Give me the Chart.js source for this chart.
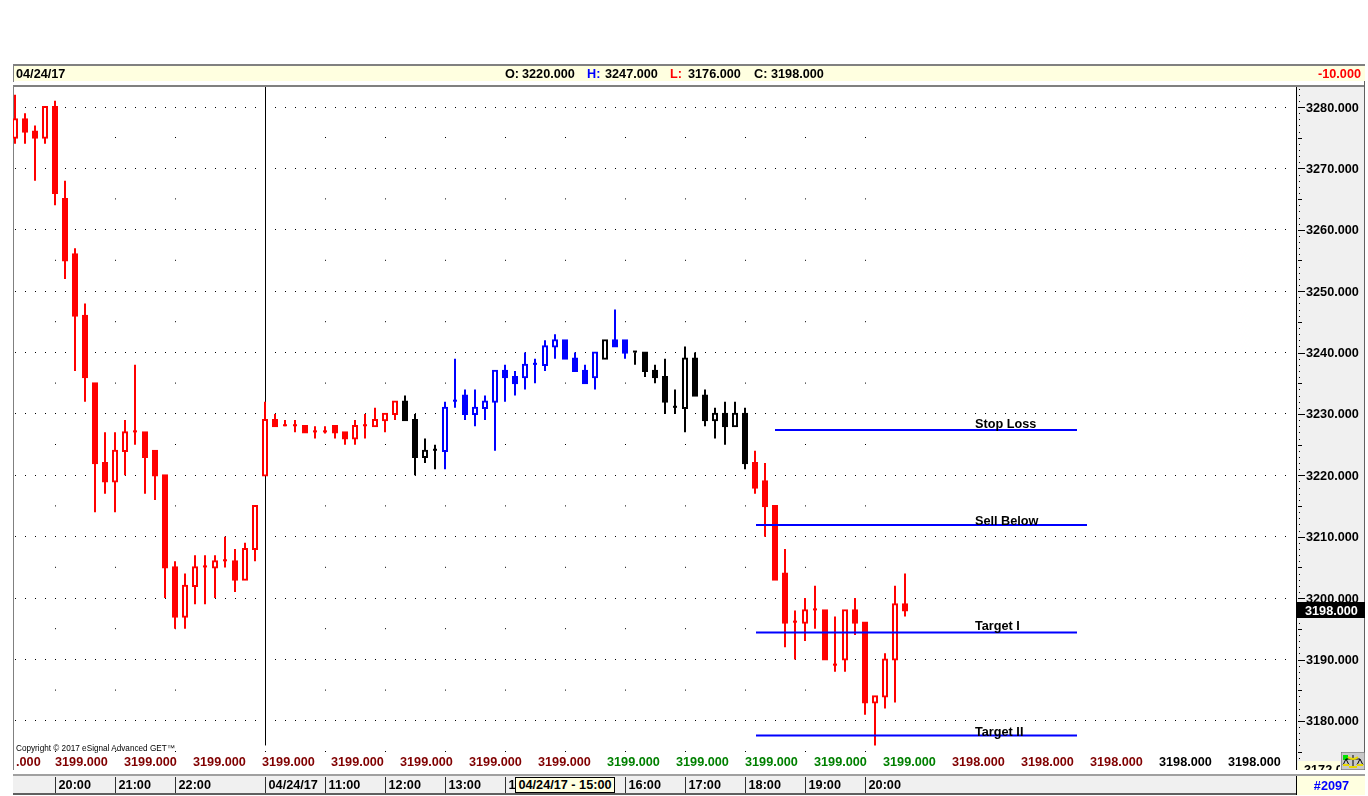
<!DOCTYPE html>
<html>
<head>
<meta charset="utf-8">
<title>eSignal chart</title>
<script src="https://cdn.jsdelivr.net/npm/chart.js@4/dist/chart.umd.min.js"></script>
<style>
html,body{margin:0;padding:0;background:#fff;width:1368px;height:796px;overflow:hidden}
body{position:relative;font:bold 12.7px "Liberation Sans",Arial,sans-serif;color:#000}
canvas{position:absolute;left:0;top:0;z-index:2}
.b{position:absolute;z-index:1}
.t{position:absolute;z-index:3;white-space:pre;line-height:16px;height:16px}
</style>
</head>
<body>
<div class="b" style="left:13px;top:64px;width:1352px;height:2px;background:#808080"></div>
<div class="b" style="left:13px;top:65px;width:1px;height:17px;background:#808080"></div>
<div class="b" style="left:14px;top:66px;width:1351px;height:15px;background:#ffffe0"></div>
<div class="b" style="left:13px;top:85px;width:1352px;height:2px;background:#808080"></div>
<div class="b" style="left:13px;top:87px;width:1px;height:683px;background:#808080"></div>
<div class="b" style="left:1297px;top:87px;width:67px;height:683px;background:#f0f0f0"></div>
<div class="b" style="left:1296px;top:87px;width:1px;height:683px;background:#000"></div>
<div class="b" style="left:1364px;top:81px;width:1px;height:689px;background:#606060"></div>
<div class="b" style="left:13px;top:774px;width:1352px;height:2px;background:#a0a0a0"></div>
<div class="b" style="left:13px;top:776px;width:1283px;height:17px;background:#f0f0f0"></div>
<div class="b" style="left:13px;top:793px;width:1284px;height:2px;background:#606060"></div>
<div class="b" style="left:1296px;top:776px;width:1px;height:19px;background:#000"></div>
<div class="b" style="left:1297px;top:776px;width:68px;height:19px;background:#ffffe0"></div>

<div class="t" style="left:16px;top:66px">04/24/17</div>
<div class="t" style="left:505px;top:66px">O:</div><div class="t" style="left:522px;top:66px">3220.000</div>
<div class="t" style="left:587px;top:66px;color:#0000ff">H:</div><div class="t" style="left:605px;top:66px">3247.000</div>
<div class="t" style="left:670px;top:66px;color:#ff0000">L:</div><div class="t" style="left:688px;top:66px">3176.000</div>
<div class="t" style="left:754px;top:66px">C:</div><div class="t" style="left:771px;top:66px">3198.000</div>
<div class="t" style="right:7px;top:66px;color:#ff0000">-10.000</div>
<div class="t" style="left:16px;top:741px;font:normal 8.2px/16px 'Liberation Sans',Arial,sans-serif">Copyright © 2017 eSignal Advanced GET™</div>
<div class="t" style="left:515px;top:777px;width:98px;height:14px;border:1px solid #000;background:#ffffe0;line-height:15px;text-align:center">04/24/17 - 15:00</div>
<div class="t" style="left:1298px;top:778px;width:67px;text-align:center;color:#0000ff">#2097</div>
<div class="t" style="left:1298px;top:761px;width:42px;height:9px;overflow:hidden;background:#ffffe0;line-height:18px;padding-left:6px;box-sizing:border-box">3172.000</div>
<svg class="t" style="left:1341px;top:752px;width:24px;height:18px" viewBox="0 0 24 18">
  <rect x="0" y="0" width="24" height="18" fill="#c8c8c8" stroke="#606060"/>
  <rect x="2" y="3" width="5" height="5" fill="#00e000"/>
  <path d="M12 3V15M5 7H19M5 7L2 13M5 7L8 13M19 7L16 13M19 7L22 13" stroke="#000" fill="none"/>
  <path d="M2 13H8M16 13H22M8 15H16" stroke="#e8d800" stroke-width="2"/>
  <path d="M7 5Q12 9 17 5" stroke="#e8d800" fill="none" stroke-width="2"/>
</svg>

<canvas id="c" width="1368" height="796"></canvas>
<script>
const opens  = [3275,3278,3276,3275,3280,3265,3256,3246,3235,3222,3219,3224,3227,3227,3224,3220,3205,3197,3202,3205,3205,3206,3206,3203,3208,3220,3229,3228,3228,3228,3227,3227,3228,3227,3226,3228,3228,3229,3230,3232,3229,3223,3224,3224,3232,3233,3230,3231,3232,3237,3236,3236,3238,3238,3241,3242,3239,3237,3236,3239,3242,3242,3240,3240,3237,3236,3231,3231,3239,3233,3229,3230,3228,3230,3222,3219,3215,3204,3196,3196,3198,3198,3189,3190,3198,3196,3183,3184,3190,3199];
const highs  = [3282,3279,3277,3280,3281,3268,3257,3248,3235,3227,3227,3229,3238,3227,3224,3220,3206,3204,3207,3207,3207,3210,3208,3209,3215,3232,3230,3229,3229,3228,3228,3228,3228,3227,3229,3230,3231,3230,3232,3233,3230,3226,3225,3232,3239,3234,3234,3233,3237,3238,3237,3240,3239,3242,3243,3242,3240,3238,3240,3242,3247,3242,3240,3240,3238,3239,3234,3241,3240,3234,3231,3232,3232,3231,3224,3222,3215,3208,3198,3200,3202,3198,3197,3198,3200,3196,3184,3191,3202,3204];
const lows   = [3274,3274,3268,3274,3264,3252,3237,3232,3214,3217,3214,3220,3225,3217,3216,3200,3195,3195,3199,3199,3200,3205,3201,3203,3206,3220,3228,3228,3227,3227,3226,3226.8,3226,3225,3225,3226,3228,3227,3229,3229,3220,3222,3221,3221,3231,3229,3228,3229,3224,3232,3233,3234,3235,3237,3239,3239,3237,3235,3234,3239,3241,3239,3238,3236,3235,3230,3230,3227,3233,3228,3226,3225,3228,3221,3217,3210,3203,3192,3190,3193,3195,3190,3188,3188,3194,3181,3176,3182,3183,3197];
const closes = [3278,3276,3275,3280,3266,3255,3246,3236,3222,3219,3224,3227,3227,3223,3220,3205,3197,3202,3205,3205,3206,3206,3203,3208,3215,3229,3228,3228,3228,3227,3227,3227,3227,3226,3228,3228,3229,3230,3232,3229,3223,3224,3224,3231,3232,3230,3231,3232,3237,3236,3235,3238,3238,3241,3242,3239,3237,3235,3240,3242,3241,3240,3240,3237,3236,3232,3231,3239,3233,3229,3230,3228,3230,3222,3218,3215,3203,3196,3196,3198,3198,3190,3189,3198,3196,3183,3184,3190,3199,3198];
const candleHues = 'rrrrrrrrrrrrrrrrrrrrrrrrrrrrrrrrrrrrrrrkkkkbbbbbbbbbbbbbbbbkbbkkkkkkkkkkkkrrrrrrrrrrrrrrrr'.split('');
const hueColors = {r:'#ff0000', k:'#000000', b:'#0000ff'};

const priceTicks = [3280,3270,3260,3250,3240,3230,3220,3210,3200,3190,3180];
const lastClose = 3198;

const levelNames  = ['Stop Loss','Sell Below','Target I','Target II'];
const levelValues = [3227.4,3211.9,3194.4,3177.6];
const levelStart  = [76,74.1,74.1,74.1];
const levelEnd    = [106.2,107.2,106.2,106.2];
const captionRise = [5,4,5.5,3.5];

const timeTicks  = [4,10,16,25,31,37,43,49,55,61,67,73,79,85];
const timeLabels = ['20:00','21:00','22:00','04/24/17','11:00','12:00','13:00','14:00','15:00','16:00','17:00','18:00','19:00','20:00'];

const rowLabels = ['.000','3199.000','3199.000','3199.000','3199.000','3199.000','3199.000','3199.000','3199.000','3199.000','3199.000','3199.000','3199.000','3199.000','3198.000','3198.000','3198.000','3198.000','3198.000'];
const rowColors = ['d','d','d','d','d','d','d','d','d','g','g','g','g','g','d','d','d','k','k'];
const rowHue = {d:'#800000', g:'#008000', k:'#000000'};
const rowTicks = [0.1,4,10.9,17.8,24.7,31.6,38.5,45.4,52.3,59.2,66.1,73,79.9,86.8,93.7,100.6,107.5,114.4,121.3];

const cursorIndex = 25.05;
const xMin = -0.2, xMax = 128, yMin = 3172, yMax = 3283.26;
const bodyPad = 0.18;
const FONT = '"Liberation Sans",Arial,sans-serif';
const TXT = {family:FONT, size:12.7, weight:'bold'};

const isDoji = i => opens[i] === closes[i];
const idx = opens.map((_, i) => i);
const bodyIdx = idx.filter(i => !isDoji(i));
const dojiIdx = idx.filter(isDoji);

const deco = {
  id:'deco',
  afterDraw(chart){
    const {ctx, scales:{x, y}} = chart;
    ctx.save();
    ctx.fillStyle = '#000';
    for (let v = yMin + 1; v < yMax; v++){
      const p = Math.round(y.getPixelForValue(v));
      if (v % 10 === 0) ctx.fillRect(1298, p, 7, 1);
      else if (v % 5 === 0) ctx.fillRect(1298, p, 4, 1);
      else ctx.fillRect(1299, p, 1, 1);
    }
    const py = y.getPixelForValue(lastClose);
    ctx.fillStyle = '#000';
    ctx.fillRect(1296, Math.round(py) - 8, 69, 16);
    ctx.fillStyle = '#fff';
    ctx.font = 'bold 12.7px ' + FONT;
    ctx.textBaseline = 'middle';
    ctx.textAlign = 'left';
    ctx.fillText(lastClose.toFixed(3), 1305, py + 1);
    ctx.fillStyle = '#000';
    levelNames.forEach((n, i) => {
      ctx.fillText(n, 975, y.getPixelForValue(levelValues[i]) - captionRise[i]);
    });
    ctx.fillStyle = '#303030';
    timeTicks.forEach(t => ctx.fillRect(Math.round(x.getPixelForValue(t)), 777, 1, 16));
    ctx.restore();
  }
};

const datasets = [
  { type:'bar', label:'wick', order:3, grouped:false, barThickness:2, borderWidth:0, inflateAmount:0,
    backgroundColor: idx.map(i => hueColors[candleHues[i]]),
    data: idx.map(i => ({x:i, y:[lows[i], highs[i]]})) },
  { type:'bar', label:'body', order:2, grouped:false, barThickness:6, borderWidth:2, borderSkipped:false, inflateAmount:0,
    backgroundColor: bodyIdx.map(i => closes[i] > opens[i] ? '#ffffff' : hueColors[candleHues[i]]),
    borderColor: bodyIdx.map(i => hueColors[candleHues[i]]),
    data: bodyIdx.map(i => ({x:i, y:[Math.min(opens[i],closes[i]) - bodyPad, Math.max(opens[i],closes[i]) + bodyPad]})) },
  { type:'bar', label:'doji', order:1, grouped:false, barThickness:4, minBarLength:2, borderWidth:0, inflateAmount:0,
    backgroundColor: dojiIdx.map(i => hueColors[candleHues[i]]),
    data: dojiIdx.map(i => ({x:i, y:[closes[i], closes[i]]})) },
  { type:'line', label:'cursor', order:4, borderColor:'#000', borderWidth:1, pointRadius:0,
    data:[{x:cursorIndex,y:lows[86]},{x:cursorIndex,y:yMax}] }
];
levelNames.forEach((n, i) => datasets.push({
  type:'line', label:n, order:0, borderColor:'#0000ff', borderWidth:2, pointRadius:0,
  data:[{x:levelStart[i],y:levelValues[i]},{x:levelEnd[i],y:levelValues[i]}]
}));

new Chart(document.getElementById('c'), {
  type:'bar',
  data:{datasets},
  plugins:[deco],
  options:{
    responsive:false, animation:false, devicePixelRatio:1,
    layout:{padding:{left:13, top:87, right:3, bottom:0}},
    plugins:{legend:{display:false}, tooltip:{enabled:false}},
    scales:{
      x:{
        type:'linear', position:'bottom', min:xMin, max:xMax, offset:false,
        afterFit(s){ s.height = 26; },
        afterBuildTicks(s){ s.ticks = timeTicks.map(v => ({value:v})); },
        border:{display:false, dash:[1,60.4], dashOffset:11.4},
        grid:{color:'#000', lineWidth:1, drawTicks:false, offset:false},
        ticks:{autoSkip:false, maxRotation:0, minRotation:0, align:'start', padding:8,
          color:'#000', font:TXT,
          callback:(v,i) => ' ' + timeLabels[i]}
      },
      x2:{
        type:'linear', axis:'x', position:{y:yMin}, min:xMin, max:xMax, offset:false,
        afterBuildTicks(s){ s.ticks = rowTicks.map(v => ({value:v})); },
        border:{display:false},
        grid:{display:false, drawTicks:false},
        ticks:{autoSkip:false, maxRotation:0, minRotation:0, align:'start', padding:-15,
          color:c => rowHue[rowColors[c.index]], font:TXT,
          callback:(v,i) => rowLabels[i]}
      },
      y:{
        type:'linear', position:'right', min:yMin, max:yMax,
        afterFit(s){ s.width = 70; },
        afterBuildTicks(s){ s.ticks = priceTicks.map(v => ({value:v})); },
        border:{display:false, dash:[1,9], dashOffset:8},
        grid:{color:'#000', lineWidth:1, drawTicks:false},
        ticks:{autoSkip:false, padding:11, labelOffset:1, color:'#000', font:TXT,
          callback:v => Number(v).toFixed(3)}
      }
    }
  }
});
</script>
</body>
</html>
